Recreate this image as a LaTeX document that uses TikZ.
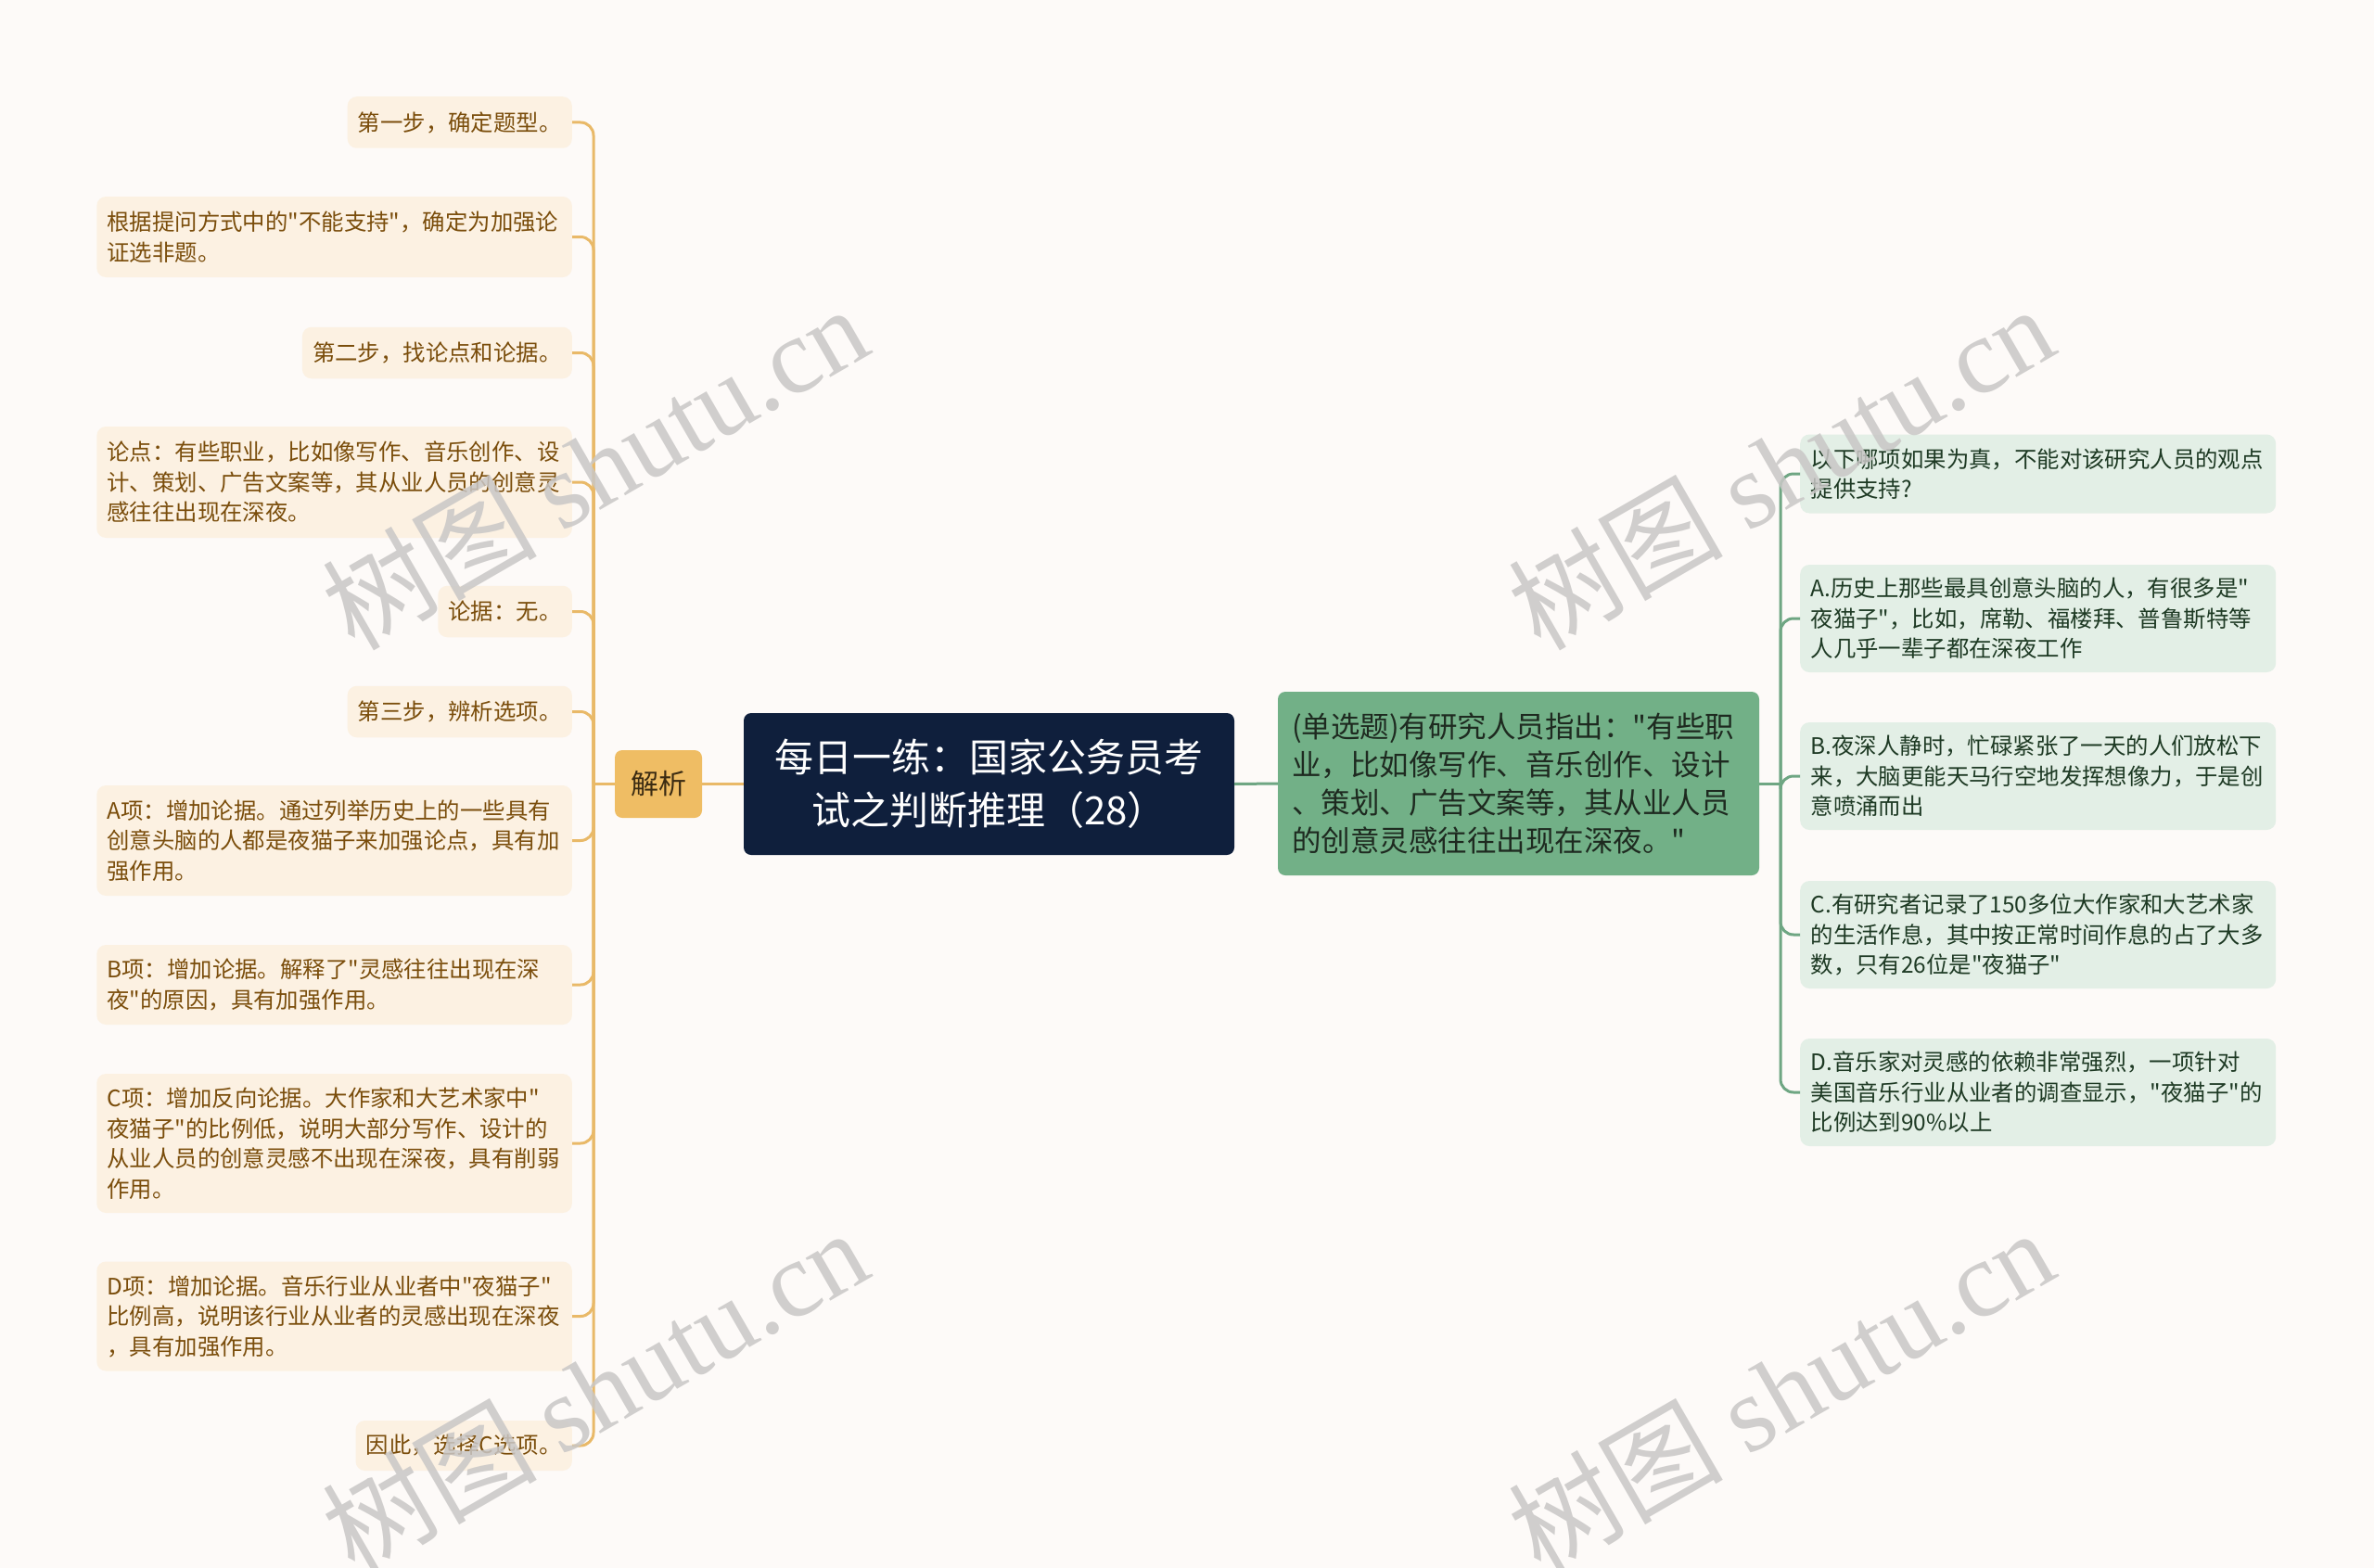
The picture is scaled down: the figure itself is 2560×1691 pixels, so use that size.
\documentclass[tikz,border=0pt]{standalone}
\usepackage{fontspec}
\setmainfont{Noto Sans CJK SC}
\newfontfamily\cjkf{Noto Sans CJK SC}
\newfontfamily\wmserif{Liberation Serif}
\definecolor{bg}{HTML}{FDFAF8}
\definecolor{lfill}{HTML}{FCF1E2}
\definecolor{ltext}{HTML}{7A4D0B}
\definecolor{lline}{HTML}{E9B968}
\definecolor{jxfill}{HTML}{EFBD64}
\definecolor{jxtext}{HTML}{3B2B12}
\definecolor{tfill}{HTML}{0F1F3C}
\definecolor{qfill}{HTML}{72B087}
\definecolor{qtext}{HTML}{1E2A20}
\definecolor{rfill}{HTML}{E3EFE6}
\definecolor{rtext}{HTML}{1E3A24}
\definecolor{rline}{HTML}{6FA683}
\definecolor{wmgray}{HTML}{C9C7C6}
\tikzset{
  lnode/.style={fill=lfill, text=ltext, rounded corners=10pt, inner xsep=11.25pt, inner ysep=0pt,
    font=\cjkf\fontsize{24.4}{32.5}\selectfont, anchor=east},
  lwide/.style={lnode, text width=490pt, align=left},
  rnode/.style={fill=rfill, text=rtext, rounded corners=10pt, inner xsep=11.5pt, inner ysep=0pt,
    font=\cjkf\fontsize{24.4}{32.5}\selectfont, anchor=west, text width=490pt, align=left},
  lconn/.style={draw=lline, line width=3pt, rounded corners=14pt},
  rconn/.style={draw=rline, line width=3pt, rounded corners=14pt},
  wmark/.style={text=wmgray, opacity=0.85, rotate=30, inner sep=0pt, font=\cjkf\fontsize{116}{124}\selectfont}
}
\begin{document}
\begin{tikzpicture}[x=1pt,y=-1pt]
\fill[bg] (0,0) rectangle (2560,1691);
\useasboundingbox (0,0) rectangle (2560,1691);

% centre nodes
\node[fill=jxfill, text=jxtext, rounded corners=8pt, minimum width=94pt, minimum height=73pt,
  inner sep=0pt, font=\cjkf\fontsize{30}{36}\selectfont] (jx) at (710,845.5) {解析};
\node[fill=tfill, text=white, rounded corners=8pt, minimum width=529pt, minimum height=153pt,
  inner sep=0pt, align=center, font=\cjkf\fontsize{42}{57}\selectfont] (title) at (1066.5,845.5)
  {每日一练：国家公务员考\\试之判断推理（28）};
\node[fill=qfill, text=qtext, rounded corners=8pt, minimum width=519pt, minimum height=198pt,
  inner xsep=15pt, inner ysep=0pt, text width=489pt, align=left, font=\cjkf\fontsize{31.5}{41.3}\selectfont]
  (q) at (1637.5,845)
  {(单选题)有研究人员指出："有些职\\业，比如像写作、音乐创作、设计\\、策划、广告文案等，其从业人员\\的创意灵感往往出现在深夜。"};

% left nodes
\node[lnode, minimum height=55.5pt] (n1) at (617,132) {第一步，确定题型。};
\node[lwide, minimum height=87pt] (n2) at (617,255.5) {根据提问方式中的"不能支持"，确定为加强论\\证选非题。};
\node[lnode, minimum height=55.5pt] (n3) at (617,380.5) {第二步，找论点和论据。};
\node[lwide, minimum height=120pt] (n4) at (617,520) {论点：有些职业，比如像写作、音乐创作、设\\计、策划、广告文案等，其从业人员的创意灵\\感往往出现在深夜。};
\node[lnode, minimum height=55.5pt] (n5) at (617,659.5) {论据：无。};
\node[lnode, minimum height=55.5pt] (n6) at (617,767.5) {第三步，辨析选项。};
\node[lwide, minimum height=119pt] (n7) at (617,906.5) {A项：增加论据。通过列举历史上的一些具有\\创意头脑的人都是夜猫子来加强论点，具有加\\强作用。};
\node[lwide, minimum height=86pt] (n8) at (617,1062) {B项：增加论据。解释了"灵感往往出现在深\\夜"的原因，具有加强作用。};
\node[lwide, minimum height=150pt] (n9) at (617,1233) {C项：增加反向论据。大作家和大艺术家中"\\夜猫子"的比例低，说明大部分写作、设计的\\从业人员的创意灵感不出现在深夜，具有削弱\\作用。};
\node[lwide, minimum height=118pt] (n10) at (617,1419.5) {D项：增加论据。音乐行业从业者中"夜猫子"\\比例高，说明该行业从业者的灵感出现在深夜\\，具有加强作用。};
\node[lnode, minimum height=54pt] (n11) at (617,1559) {因此，选择C选项。};

% right nodes
\node[rnode, minimum height=85pt] (r1) at (1941,511) {以下哪项如果为真，不能对该研究人员的观点\\提供支持?};
\node[rnode, minimum height=116pt] (r2) at (1941,667) {A.历史上那些最具创意头脑的人，有很多是"\\夜猫子"，比如，席勒、福楼拜、普鲁斯特等\\人几乎一辈子都在深夜工作};
\node[rnode, minimum height=116pt] (r3) at (1941,837) {B.夜深人静时，忙碌紧张了一天的人们放松下\\来，大脑更能天马行空地发挥想像力，于是创\\意喷涌而出};
\node[rnode, minimum height=116pt] (r4) at (1941,1008) {C.有研究者记录了150多位大作家和大艺术家\\的生活作息，其中按正常时间作息的占了大多\\数，只有26位是"夜猫子"};
\node[rnode, minimum height=116pt] (r5) at (1941,1178) {D.音乐家对灵感的依赖非常强烈，一项针对\\美国音乐行业从业者的调查显示，"夜猫子"的\\比例达到90\%以上};

% spines
\coordinate (lsp) at (640,845.5);
\coordinate (rsp) at (1920,845);

% connectors
\draw[lconn] (jx.west) -- (lsp);
\draw[lconn] (jx.east) -- (title.west);
\foreach \n in {n1,n2,n3,n4,n5,n6,n7,n8,n9,n10,n11}
  \draw[lconn] (lsp) |- (\n.east);
\draw[rconn] (title.east) -- (q.west);
\draw[rconn] (q.east) -- (rsp);
\foreach \n in {r1,r2,r3,r4,r5}
  \draw[rconn] (rsp) |- (\n.west);

% watermarks
\node[wmark] (wm1) at (641,503) {树图 {\wmserif shutu.cn}};
\node[wmark] (wm2) at (1920,503) {树图 {\wmserif shutu.cn}};
\node[wmark] (wm3) at (641,1499) {树图 {\wmserif shutu.cn}};
\node[wmark] (wm4) at (1920,1499) {树图 {\wmserif shutu.cn}};
\end{tikzpicture}
\end{document}
